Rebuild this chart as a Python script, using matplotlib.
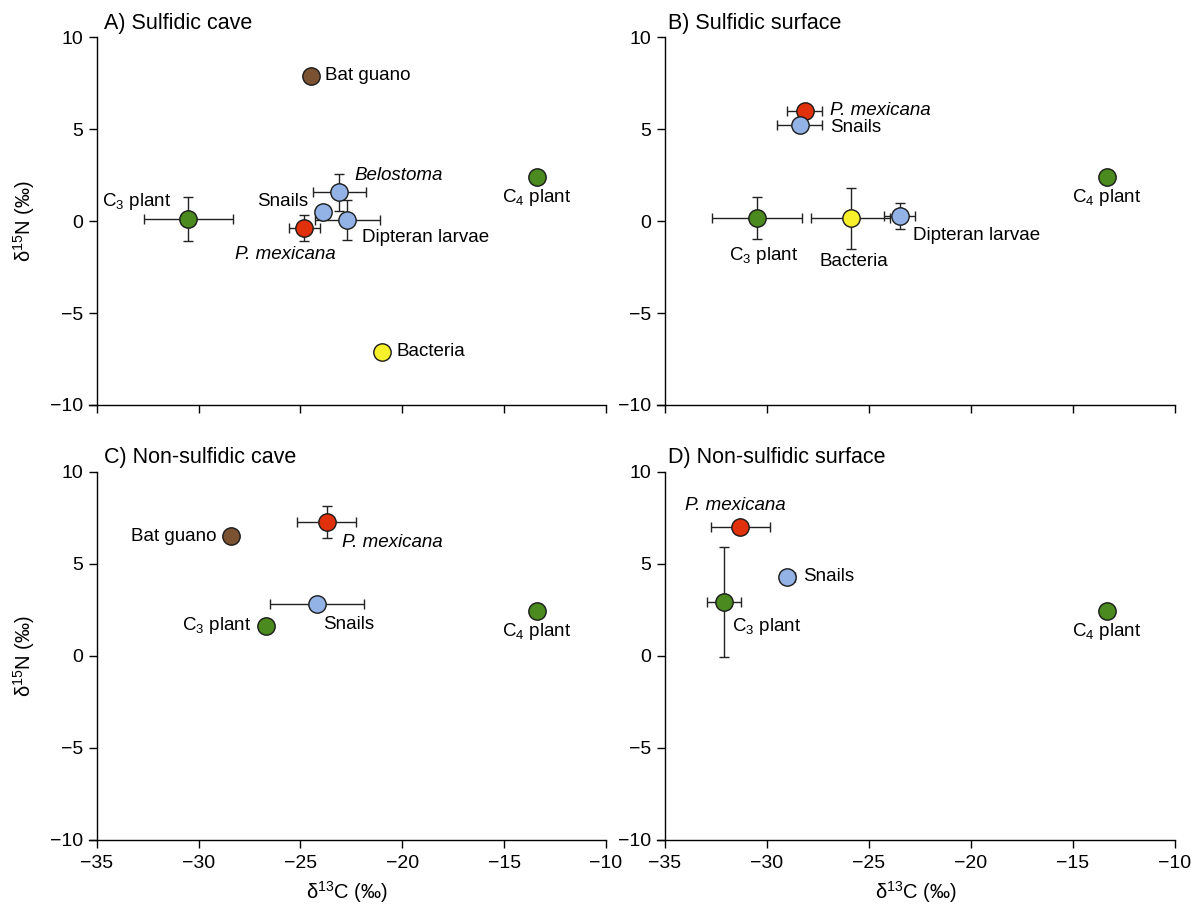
import matplotlib
matplotlib.use('Agg')
import matplotlib.pyplot as plt

plt.rcParams['font.family'] = ['Liberation Sans', 'DejaVu Sans']
plt.rcParams['mathtext.fontset'] = 'custom'
plt.rcParams['mathtext.rm'] = 'Liberation Sans'
plt.rcParams['mathtext.it'] = 'Liberation Sans:italic'
plt.rcParams['mathtext.bf'] = 'Liberation Sans:bold'

# ---------------- data ----------------
A_names = ['Bat guano', 'C3 plant', 'C4 plant', 'P. mexicana', 'Snails', 'Belostoma', 'Dipteran larvae', 'Bacteria']
A_d13C = [-24.5, -30.5, -13.4, -24.8, -23.9, -23.1, -22.7, -21.0]
A_d15N = [7.9, 0.1, 2.4, -0.4, 0.5, 1.55, 0.05, -7.1]
A_sdC = [0, 2.2, 0, 0.75, 0, 1.3, 1.6, 0]
A_sdN = [0, 1.2, 0, 0.7, 0, 1.0, 1.1, 0]

B_names = ['C3 plant', 'Bacteria', 'Dipteran larvae', 'P. mexicana', 'Snails', 'C4 plant']
B_d13C = [-30.5, -25.9, -23.5, -28.15, -28.4, -13.35]
B_d15N = [0.15, 0.15, 0.27, 6.0, 5.2, 2.4]
B_sdC = [2.2, 1.95, 0.77, 0.87, 1.1, 0]
B_sdN = [1.15, 1.65, 0.7, 0, 0, 0]

C_names = ['Bat guano', 'P. mexicana', 'Snails', 'C3 plant', 'C4 plant']
C_d13C = [-28.4, -23.7, -24.2, -26.7, -13.4]
C_d15N = [6.5, 7.3, 2.85, 1.65, 2.45]
C_sdC = [0, 1.45, 2.3, 0, 0]
C_sdN = [0, 0.87, 0, 0, 0]

D_names = ['P. mexicana', 'C3 plant', 'Snails', 'C4 plant']
D_d13C = [-31.3, -32.1, -29.0, -13.35]
D_d15N = [7.0, 2.95, 4.3, 2.45]
D_sdC = [1.43, 0.85, 0.35, 0]
D_sdN = [0, 3.0, 0, 0]

panel_titles = ['A) Sulfidic cave', 'B) Sulfidic surface', 'C) Non-sulfidic cave', 'D) Non-sulfidic surface']
x_ticks = [-35, -30, -25, -20, -15, -10]
y_ticks = [-10, -5, 0, 5, 10]

# ---------------- styles ----------------
colors = {
    'Bat guano': '#7b5232',
    'C3 plant': '#4a8a1f',
    'C4 plant': '#4a8a1f',
    'P. mexicana': '#e0300c',
    'Snails': '#93b3e6',
    'Belostoma': '#93b3e6',
    'Dipteran larvae': '#93b3e6',
    'Bacteria': '#f7f02a',
}
display = {
    'C3 plant': r'C$_3$ plant',
    'C4 plant': r'C$_4$ plant',
}
italic = {'P. mexicana', 'Belostoma'}

# label offsets in pixels (dx, dy, ha)
layout = [
    {'Bat guano': (14, 0, 'left'), 'C3 plant': (-17, 18, 'right'), 'C4 plant': (0, -21, 'center'),
     'P. mexicana': (-19, -26, 'center'), 'Snails': (-15, 10, 'right'), 'Belostoma': (15, 17, 'left'),
     'Dipteran larvae': (15, -17, 'left'), 'Bacteria': (15, 0, 'left')},
    {'C3 plant': (7, -37, 'center'), 'Bacteria': (3, -43, 'center'), 'Dipteran larvae': (13, -19, 'left'),
     'P. mexicana': (25, 0, 'left'), 'Snails': (30, -2, 'left'), 'C4 plant': (0, -21, 'center')},
    {'Bat guano': (-15, 0, 'right'), 'P. mexicana': (15, -21, 'left'), 'Snails': (6, -21, 'left'),
     'C3 plant': (-15, 0, 'right'), 'C4 plant': (0, -21, 'center')},
    {'P. mexicana': (-5, 22, 'center'), 'C3 plant': (8, -25, 'left'), 'Snails': (16, 0, 'left'),
     'C4 plant': (0, -21, 'center')},
]

panels = [
    (A_names, A_d13C, A_d15N, A_sdC, A_sdN),
    (B_names, B_d13C, B_d15N, B_sdC, B_sdN),
    (C_names, C_d13C, C_d15N, C_sdC, C_sdN),
    (D_names, D_d13C, D_d15N, D_sdC, D_sdN),
]

W, H = 1196, 907
fig = plt.figure(figsize=(W / 100, H / 100), dpi=100)

# axes rectangles in pixels: (left, right, top, bottom)
rects = [(88.5, 606, 37, 405), (656.8, 1175, 37, 405),
         (88.5, 606, 472, 840), (656.8, 1175, 472, 840)]
title_pos = [(104, 23), (668, 23), (104, 458), (668, 458)]

for i, ((names, xs, ys, sx, sy), (l, r, t, b)) in enumerate(zip(panels, rects)):
    ax = fig.add_axes([l / W, 1 - b / H, (r - l) / W, (b - t) / H])
    ax.set_xlim(-35.4, -10)
    ax.set_ylim(-10, 10)
    for s in ['top', 'right']:
        ax.spines[s].set_visible(False)
    ax.spines['left'].set_position(('data', -35))
    for s in ['left', 'bottom']:
        ax.spines[s].set_linewidth(1.0)
    ax.set_xticks(x_ticks)
    ax.set_yticks(y_ticks)
    ax.tick_params(direction='out', length=6, width=1.0, labelsize=14, pad=4)
    ax.tick_params(axis='x', pad=5)
    if i < 2:
        ax.tick_params(axis='x', labelbottom=False)
    ax.patch.set_visible(False)

    lay = layout[i]
    for n, x, y, ex, ey in zip(names, xs, ys, sx, sy):
        if ex or ey:
            ax.errorbar(x, y, xerr=ex if ex else None, yerr=ey if ey else None,
                        fmt='none', ecolor='#222222', elinewidth=1.0, capsize=3.5,
                        capthick=1.0, zorder=2, clip_on=False)
        ax.plot(x, y, 'o', ms=12.5, mfc=colors[n], mec='#1a1a1a', mew=1.0,
                zorder=3, clip_on=False)
        dx, dy, ha = lay[n]
        ax.annotate(display.get(n, n), (x, y), xytext=(dx, dy), textcoords='offset pixels',
                    ha=ha, va='center', fontsize=13.5,
                    style='italic' if n in italic else 'normal', zorder=4)

    tx, ty = title_pos[i]
    fig.text(tx / W, 1 - ty / H, panel_titles[i], ha='left', va='center', fontsize=15.5)

# axis labels
for yc in [221, 656]:
    fig.text(24 / W, 1 - yc / H, r'$\mathrm{\delta}^{15}$N (‰)', rotation=90,
             ha='center', va='center', fontsize=14.5)
for xc in [347, 916]:
    fig.text(xc / W, 1 - 892 / H, r'$\mathrm{\delta}^{13}$C (‰)',
             ha='center', va='center', fontsize=14.5)

fig.savefig('out.png', dpi=100)
